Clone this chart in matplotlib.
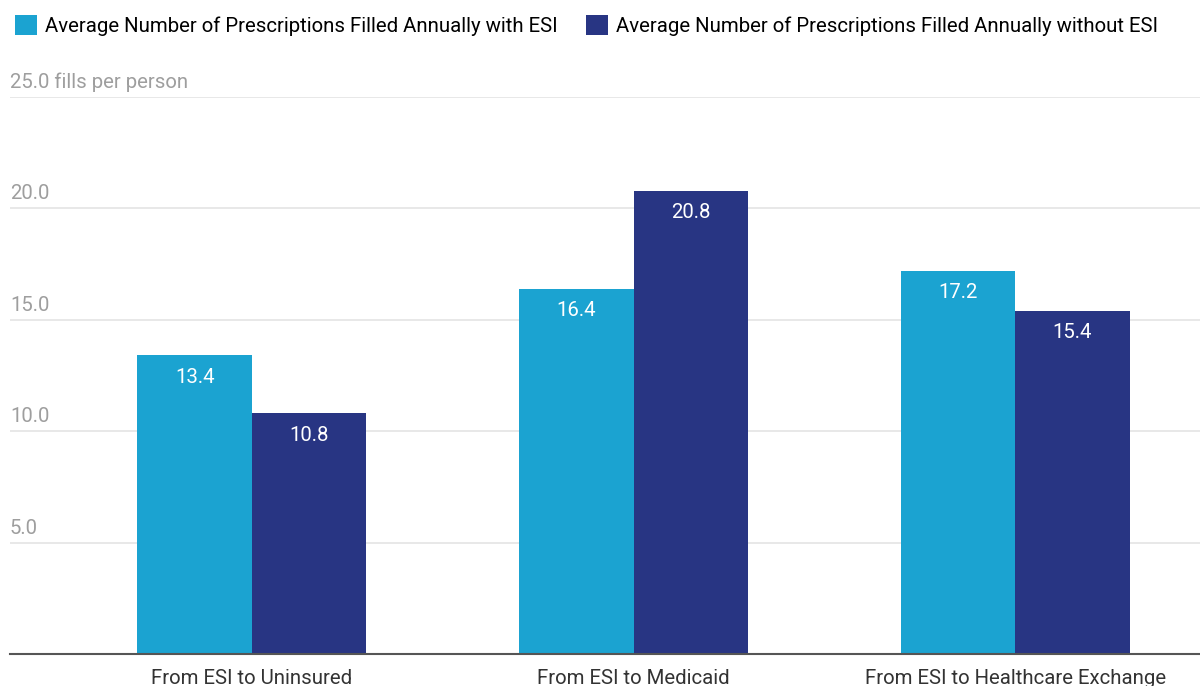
import numpy as np
import matplotlib.pyplot as plt

plt.rcParams['font.family'] = ['Roboto', 'DejaVu Sans']

# data
categories = ['From ESI to Uninsured', 'From ESI to Medicaid', 'From ESI to Healthcare Exchange']
with_esi = [13.4, 16.4, 17.2]
without_esi = [10.8, 20.8, 15.4]
series_names = ['Average Number of Prescriptions Filled Annually with ESI',
                'Average Number of Prescriptions Filled Annually without ESI']
yticks = [5, 10, 15, 20, 25]
ytick_labels = ['5.0', '10.0', '15.0', '20.0', '25.0 fills per person']

light = '#1ba3d1'
dark = '#283583'
fs = 14.7

fig = plt.figure(figsize=(12, 6.86), dpi=100)
ax = fig.add_axes([10 / 1200, 1 - 654 / 686, 1190 / 1200, (654 - 97) / 686])

x = np.arange(len(categories))
w = 0.30
b1 = ax.bar(x - w / 2, with_esi, w, color=light, label=series_names[0])
b2 = ax.bar(x + w / 2, without_esi, w, color=dark, label=series_names[1])

# value labels inside bar tops
for bars, vals in ((b1, with_esi), (b2, without_esi)):
    for r, v in zip(bars, vals):
        ax.annotate(f'{v:.1f}', (r.get_x() + r.get_width() / 2, v),
                    xytext=(0, -22), textcoords='offset pixels',
                    ha='center', va='center', color='white', fontsize=fs)

ax.set_xlim(-0.634, 2.484)
ax.set_ylim(0, 25)

# gridlines + labels sitting above them
for t, lab in zip(yticks, ytick_labels):
    ax.axhline(t, color='#e4e4e4', lw=1.2, zorder=0)
    ax.annotate(lab, (0, t), xycoords=('axes fraction', 'data'),
                xytext=(0, 5), textcoords='offset pixels',
                ha='left', va='bottom', color='#9e9e9e', fontsize=fs)

ax.axhline(0, color='#555555', lw=1.5, zorder=3, clip_on=False)

ax.set_yticks([])
ax.set_xticks(x)
ax.set_xticklabels(categories, fontsize=fs, color='#333333')
ax.tick_params(axis='x', length=0, pad=11)
for s in ax.spines.values():
    s.set_visible(False)

fig.legend(loc='upper left', bbox_to_anchor=(0.0, 1.0), ncol=2, frameon=False,
           fontsize=fs, handlelength=1.08, handleheight=1.08, handletextpad=0.39,
           columnspacing=1.37, borderaxespad=0.35)

fig.savefig('out.png', dpi=100)
